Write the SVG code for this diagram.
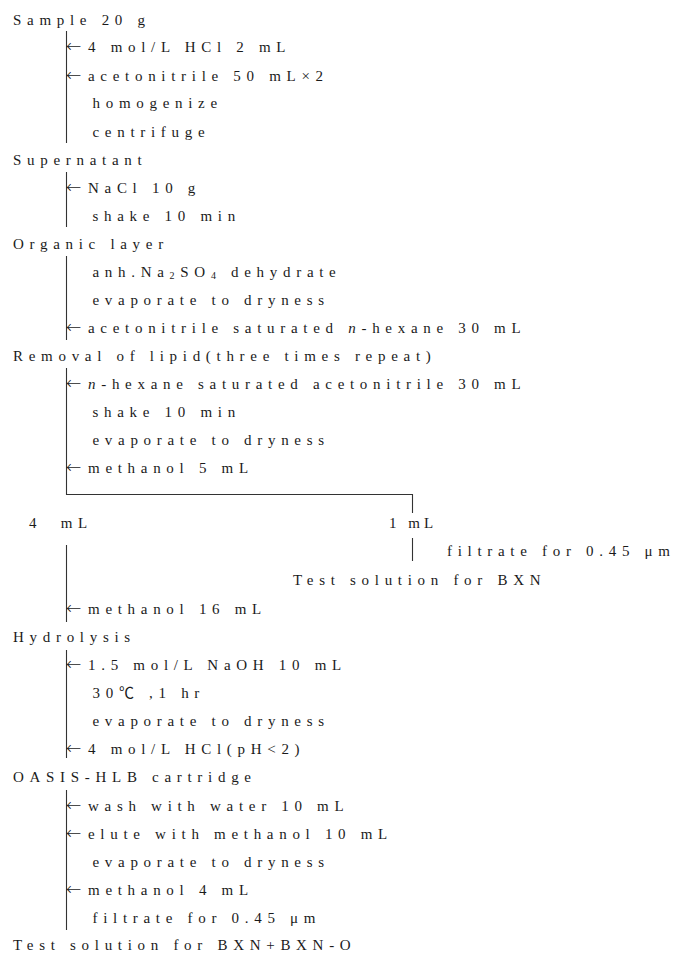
<svg xmlns="http://www.w3.org/2000/svg" width="683" height="953" viewBox="0 0 683 953">
<style>
text{font-family:"Liberation Serif","Noto Sans CJK JP",serif;font-size:15px;letter-spacing:5.7px;fill:#1a1a1a}
.ar{font-family:"Noto Sans CJK JP",sans-serif;font-weight:300;letter-spacing:7px}
.c line{stroke:#333;stroke-width:1.1}
.sub{font-size:10px}
</style>
<rect width="683" height="953" fill="#fff"/>
<g class="c" id="connectors">
<line x1="66.5" y1="31" x2="66.5" y2="143"/>
<line x1="66.5" y1="172" x2="66.5" y2="227"/>
<line x1="66.5" y1="256" x2="66.5" y2="340"/>
<line x1="66.5" y1="368" x2="66.5" y2="495"/>
<line x1="66" y1="494.5" x2="413" y2="494.5"/>
<line x1="412.5" y1="494" x2="412.5" y2="513"/>
<line x1="66.5" y1="545" x2="66.5" y2="622"/>
<line x1="412.5" y1="538" x2="412.5" y2="561"/>
<line x1="66.5" y1="650" x2="66.5" y2="758"/>
<line x1="66.5" y1="790" x2="66.5" y2="930"/>
</g>
<g id="sample"><text x="13" y="25">Sample 20 g</text></g>
<g id="s1"><text x="66" y="52"><tspan class="ar">←</tspan>4 mol/L HCl 2 mL</text></g>
<g id="s2"><text x="66" y="81"><tspan class="ar">←</tspan>acetonitrile 50 mL×2</text></g>
<g id="s3"><text x="92.5" y="108">homogenize</text></g>
<g id="s4"><text x="92.5" y="137">centrifuge</text></g>
<g id="supernatant"><text x="13" y="165">Supernatant</text></g>
<g id="s5"><text x="66" y="193"><tspan class="ar">←</tspan>NaCl 10 g</text></g>
<g id="s6"><text x="92.5" y="221">shake 10 min</text></g>
<g id="organic"><text x="13" y="249">Organic layer</text></g>
<g id="s7"><text x="92.5" y="277">anh.Na<tspan class="sub" dy="2">2</tspan><tspan dy="-2">SO</tspan><tspan class="sub" dy="2">4</tspan><tspan dy="-2"> dehydrate</tspan></text></g>
<g id="s8"><text x="92.5" y="305">evaporate to dryness</text></g>
<g id="s9"><text x="66" y="333"><tspan class="ar">←</tspan>acetonitrile saturated <tspan font-style="italic">n</tspan>-hexane 30 mL</text></g>
<g id="removal"><text x="13" y="361">Removal of lipid(three times repeat)</text></g>
<g id="s10"><text x="66" y="389"><tspan class="ar">←</tspan><tspan font-style="italic">n</tspan>-hexane saturated acetonitrile 30 mL</text></g>
<g id="s11"><text x="92.5" y="417">shake 10 min</text></g>
<g id="s12"><text x="92.5" y="445">evaporate to dryness</text></g>
<g id="s13"><text x="66" y="473"><tspan class="ar">←</tspan>methanol 5 mL</text></g>
<g id="split4"><text x="29" y="528">4 <tspan dx="9">mL</tspan></text></g>
<g id="split1"><text x="389" y="528" style="letter-spacing:4px">1 mL</text></g>
<g id="s14"><text x="447" y="556">filtrate for 0.45 μm</text></g>
<g id="testbxn"><text x="293" y="585">Test solution for BXN</text></g>
<g id="s15"><text x="66" y="614"><tspan class="ar">←</tspan>methanol 16 mL</text></g>
<g id="hydrolysis"><text x="13" y="642">Hydrolysis</text></g>
<g id="s16"><text x="66" y="670"><tspan class="ar">←</tspan>1.5 mol/L NaOH 10 mL</text></g>
<g id="s17"><text x="92.5" y="698">30℃ ,1 hr</text></g>
<g id="s18"><text x="92.5" y="726">evaporate to dryness</text></g>
<g id="s19"><text x="66" y="754"><tspan class="ar">←</tspan>4 mol/L HCl(pH&lt;2)</text></g>
<g id="oasis"><text x="13" y="782">OASIS-HLB cartridge</text></g>
<g id="s20"><text x="66" y="811"><tspan class="ar">←</tspan>wash with water 10 mL</text></g>
<g id="s21"><text x="66" y="839"><tspan class="ar">←</tspan>elute with methanol 10 mL</text></g>
<g id="s22"><text x="92.5" y="867">evaporate to dryness</text></g>
<g id="s23"><text x="66" y="895"><tspan class="ar">←</tspan>methanol 4 mL</text></g>
<g id="s24"><text x="92.5" y="923">filtrate for 0.45 μm</text></g>
<g id="testall"><text x="13" y="950">Test solution for BXN+BXN-O</text></g>
</svg>
